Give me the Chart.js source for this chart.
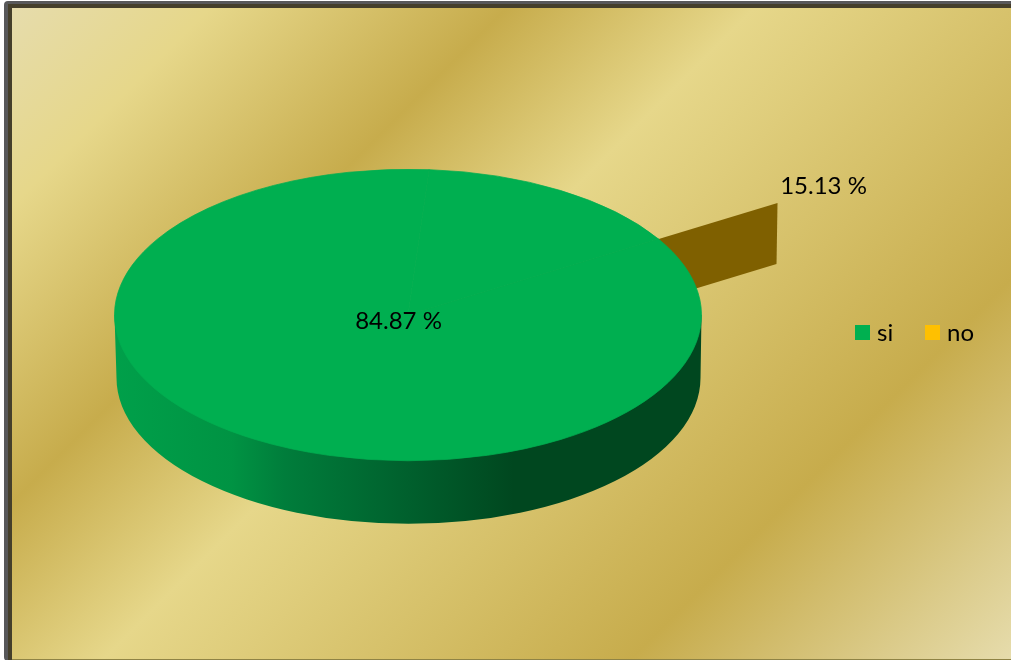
<!DOCTYPE html>
<html>
<head>
<meta charset="utf-8">
<title>si / no</title>
<script src="https://cdn.jsdelivr.net/npm/chart.js@4"></script>
<style>
    html, body { margin: 0; padding: 0; background: #fff; overflow: hidden; }
    #wrap { width: 1011px; height: 660px; }
</style>
</head>
<body>
<div id="wrap"><canvas id="pieChart" width="1011" height="660"></canvas></div>
<script>
const labels = ['si', 'no'];
const values = [84.87, 15.13];
const sliceColors = ['#00AF50', '#00AF50'];
const legendColors = ['#00B050', '#FFC000'];

const FONT = '"Lato", "Open Sans", sans-serif';
const SQUASH = 146 / 294;   // ellipse height / width of the pie top
const DEPTH = 63;           // pie thickness
const FACE_DEPTH = 61;
const FACE_REACH = 1.475;   // length of the cut face, in radii

// Frame and gold background
const backgroundPlugin = {
    id: 'background',
    beforeDraw(chart) {
        const { ctx, width, height } = chart;
        ctx.save();
        ctx.fillStyle = '#fff';
        ctx.fillRect(0, 0, width, height);

        ctx.fillStyle = '#58585A';
        ctx.beginPath();
        ctx.roundRect(4, 1, width, height, 4);
        ctx.fill();

        ctx.fillStyle = '#453F2B';
        ctx.fillRect(8, 4, width, height);

        const g = ctx.createLinearGradient(12, 8, 837, 833);
        g.addColorStop(0, '#E6DCAC');
        g.addColorStop(0.12, '#E6D78A');
        g.addColorStop(0.30, '#C7AC4C');
        g.addColorStop(0.45, '#E6D78A');
        g.addColorStop(0.77, '#C7AC4C');
        g.addColorStop(1, '#E6DCAC');
        ctx.fillStyle = g;
        ctx.fillRect(12, 8, width, height - 9);

        ctx.fillStyle = '#8F8345';
        ctx.fillRect(12, height - 1, width, 1);
        ctx.restore();
    }
};

// Tilted pie: cut face and side wall first, then the arcs squashed on top
const tiltedPiePlugin = {
    id: 'tiltedPie',
    beforeDatasetDraw(chart, args) {
        const { ctx } = chart;
        const arcs = args.meta.data;
        const { x, y, outerRadius } = arcs[0];
        const a = arcs[1].endAngle;
        const ex = x + Math.cos(a) * outerRadius * FACE_REACH;
        const ey = y + Math.sin(a) * outerRadius * FACE_REACH * SQUASH;

        ctx.save();
        ctx.fillStyle = '#7F6000';
        ctx.beginPath();
        ctx.moveTo(x, y);
        ctx.lineTo(ex, ey);
        ctx.lineTo(ex - 1, ey + FACE_DEPTH);
        ctx.lineTo(x, y + FACE_DEPTH);
        ctx.closePath();
        ctx.fill();

        const wall = ctx.createLinearGradient(x - outerRadius, 0, x + outerRadius, 0);
        wall.addColorStop(0, '#00A04A');
        wall.addColorStop(0.2, '#009343');
        wall.addColorStop(0.29, '#007D3B');
        wall.addColorStop(0.5, '#00602D');
        wall.addColorStop(0.68, '#00471F');
        wall.addColorStop(1, '#00471F');
        ctx.fillStyle = wall;
        ctx.beginPath();
        ctx.moveTo(x - outerRadius, y);
        ctx.ellipse(x + 0.5, y + DEPTH, outerRadius - 1.5, outerRadius * SQUASH, 0, Math.PI, 0, true);
        ctx.lineTo(x + outerRadius, y);
        ctx.closePath();
        ctx.fill();

        ctx.translate(0, y);
        ctx.scale(1, SQUASH);
        ctx.translate(0, -y);
        arcs[1].draw(ctx);
        arcs[0].draw(ctx);
        ctx.restore();
        return false;
    }
};

// Value labels and the legend row
const textPlugin = {
    id: 'texts',
    afterDraw(chart) {
        const { ctx } = chart;
        ctx.save();
        ctx.fillStyle = '#000';
        ctx.textBaseline = 'middle';
        ctx.font = '24px ' + FONT;
        ctx.textAlign = 'center';
        ctx.fillText(values[0].toFixed(2) + ' %', 398.5, 321);
        ctx.fillText(values[1].toFixed(2) + ' %', 823.5, 186);

        ctx.textAlign = 'left';
        const swatchX = [855, 925];
        labels.forEach((label, i) => {
            ctx.fillStyle = legendColors[i];
            ctx.fillRect(swatchX[i], 325, 15, 15);
            ctx.fillStyle = '#000';
            ctx.fillText(label, swatchX[i] + 22, 333);
        });
        ctx.restore();
    }
};

new Chart(document.getElementById('pieChart'), {
    type: 'pie',
    data: {
        labels: labels,
        datasets: [{
            data: values,
            backgroundColor: sliceColors,
            borderColor: sliceColors,
            borderWidth: 1
        }]
    },
    options: {
        responsive: false,
        animation: false,
        rotation: 58.6,
        layout: { padding: { left: 114, right: 309, top: 21, bottom: 51 } },
        plugins: {
            legend: { display: false },
            tooltip: { enabled: false }
        }
    },
    plugins: [backgroundPlugin, tiltedPiePlugin, textPlugin]
});
</script>
</body>
</html>
